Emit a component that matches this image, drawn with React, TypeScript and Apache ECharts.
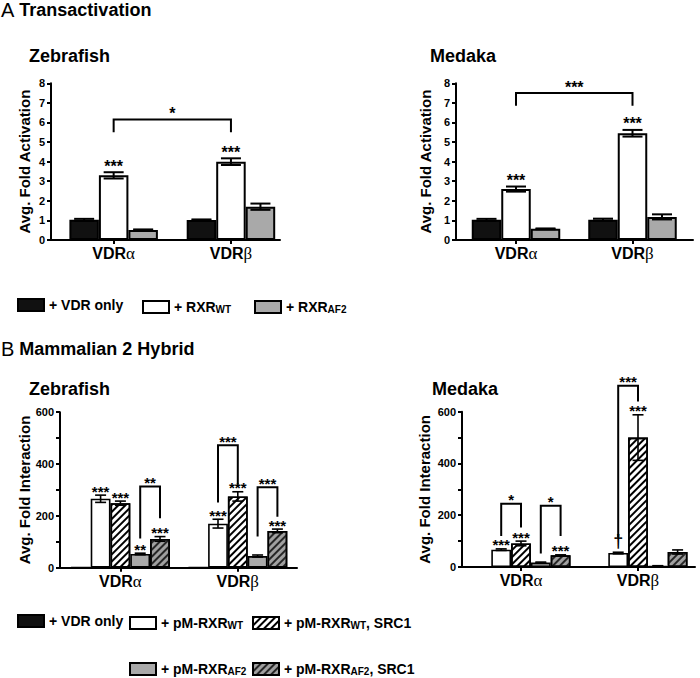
import React, { useEffect, useRef } from 'react';
import * as echarts from 'echarts';

// ---------- data ----------
const categories = ['VDRα', 'VDRβ'];

// A: Transactivation – Zebrafish (avg. fold activation)
const aZebVdr = [1.03, 1.02];
const aZebVdrErr = [0.05, 0.03];
const aZebWt = [3.3, 4.0];
const aZebWtErr = [0.16, 0.17];
const aZebAf2 = [0.51, 1.7];
const aZebAf2Err = [0.03, 0.16];
const aZebWtStars = ['***', '***'];
// bracket: [cat1, bar1, cat2, bar2, top, leftLegEnd, rightLegEnd, label]
const aZebBrackets = [[0, 1, 1, 1, 6.15, 5.5, 5.5, '*']];

// A: Transactivation – Medaka
const aMedVdr = [1.03, 1.04];
const aMedVdrErr = [0.05, 0.05];
const aMedWt = [2.6, 5.45];
const aMedWtErr = [0.13, 0.17];
const aMedAf2 = [0.57, 1.18];
const aMedAf2Err = [0.02, 0.13];
const aMedWtStars = ['***', '***'];
const aMedBrackets = [[0, 1, 1, 1, 7.5, 6.85, 6.85, '***']];

// B: Mammalian 2 Hybrid – Zebrafish (avg. fold interaction)
const bZebVdr = [1, 1];
const bZebWt = [266, 170];
const bZebWtErr = [14, 17];
const bZebWtSrc = [249, 275];
const bZebWtSrcErr = [8, 18];
const bZebAf2 = [53, 45];
const bZebAf2Err = [3, 4];
const bZebAf2Src = [111, 142];
const bZebAf2SrcErr = [9, 7];
const bZebWtStars = ['***', '***'];
const bZebWtSrcStars = ['***', '***'];
const bZebAf2Stars = ['**', ''];
const bZebAf2SrcStars = ['***', '***'];
const bZebBrackets = [
  [0, 3, 0, 4, 313, 113, 191, '**'],
  [1, 1, 1, 2, 472, 252, 320, '***'],
  [1, 3, 1, 4, 310, 120, 197, '***'],
];

// B: Mammalian 2 Hybrid – Medaka
const bMedVdr = [1, 1];
const bMedWt = [67, 54];
const bMedWtErr = [3, 3];
const bMedWtSrc = [91, 500];
const bMedWtSrcErr = [9, 88];
const bMedAf2 = [17, 4];
const bMedAf2Err = [2, 1];
const bMedAf2Src = [45, 58];
const bMedAf2SrcErr = [2, 8];
const bMedWtStars = ['***', '†'];
const bMedWtSrcStars = ['***', '***'];
const bMedAf2SrcStars = ['***', ''];
const bMedBrackets = [
  [0, 1, 0, 2, 244, 120, 153, '*'],
  [0, 3, 0, 4, 237, 52, 120, '*'],
  [1, 1, 1, 2, 700, 114, 639, '***'],
];

const none = ['', ''];
const zero = [0, 0];

// ---------- styles ----------
const FONT = '"Liberation Sans", Arial, sans-serif';
const SERIF = '"Liberation Serif", "DejaVu Serif", serif';

const hatch = (color: string) => ({
  symbol: 'rect',
  symbolSize: 1,
  dashArrayX: [1, 0],
  dashArrayY: [2, 3],
  rotation: -Math.PI / 4,
  color,
});

const STYLE: Record<string, any> = {
  vdr: { color: '#111111', borderColor: '#000000' },
  wt: { color: '#ffffff', borderColor: '#000000' },
  af2: { color: '#a9a9a9', borderColor: '#000000' },
  wtSrc: { color: '#ffffff', borderColor: '#000000', decal: hatch('#000000') },
  af2Src: { color: '#a0a0a0', borderColor: '#000000', decal: hatch('#262626') },
};

const panels = [
  {
    barLeft: 55, barW: 234.6, axisLeft: 51, axisW: 229, top: 83.3, height: 156.7,
    yMax: 8, yInterval: 1, minor: false, yName: 'Avg. Fold Activation', nameGap: 19,
    bw: 29.5, cap: 20, lw: 2, starGap: 6, starSize: 16,
    bars: [
      { name: 'VDR only', style: 'vdr', data: aZebVdr, err: aZebVdrErr, stars: none },
      { name: 'RXR_WT', style: 'wt', data: aZebWt, err: aZebWtErr, stars: aZebWtStars },
      { name: 'RXR_AF2', style: 'af2', data: aZebAf2, err: aZebAf2Err, stars: none },
    ],
    brackets: aZebBrackets,
  },
  {
    barLeft: 457.75, barW: 233, axisLeft: 456, axisW: 237, top: 83.3, height: 156.7,
    yMax: 8, yInterval: 1, minor: false, yName: 'Avg. Fold Activation', nameGap: 23,
    bw: 29.5, cap: 20, lw: 2, starGap: 6, starSize: 16,
    bars: [
      { name: 'VDR only', style: 'vdr', data: aMedVdr, err: aMedVdrErr, stars: none },
      { name: 'RXR_WT', style: 'wt', data: aMedWt, err: aMedWtErr, stars: aMedWtStars },
      { name: 'RXR_AF2', style: 'af2', data: aMedAf2, err: aMedAf2Err, stars: none },
    ],
    brackets: aMedBrackets,
  },
  {
    barLeft: 61.7, barW: 234.8, axisLeft: 60, axisW: 237, top: 412.2, height: 155.5,
    yMax: 600, yInterval: 200, minor: true, yName: 'Avg. Fold Interaction', nameGap: 28,
    bw: 19.8, cap: 11, lw: 1.6, starGap: 4, starSize: 15,
    bars: [
      { name: 'VDR only', style: 'vdr', data: bZebVdr, err: zero, stars: none },
      { name: 'pM-RXR_WT', style: 'wt', data: bZebWt, err: bZebWtErr, stars: bZebWtStars },
      { name: 'pM-RXR_WT, SRC1', style: 'wtSrc', data: bZebWtSrc, err: bZebWtSrcErr, stars: bZebWtSrcStars },
      { name: 'pM-RXR_AF2', style: 'af2', data: bZebAf2, err: bZebAf2Err, stars: bZebAf2Stars },
      { name: 'pM-RXR_AF2, SRC1', style: 'af2Src', data: bZebAf2Src, err: bZebAf2SrcErr, stars: bZebAf2SrcStars },
    ],
    brackets: bZebBrackets,
  },
  {
    barLeft: 462.5, barW: 234, axisLeft: 462, axisW: 233, top: 411.7, height: 155.3,
    yMax: 600, yInterval: 200, minor: true, yName: 'Avg. Fold Interaction', nameGap: 30,
    bw: 19.8, cap: 11, lw: 1.6, starGap: 4, starSize: 15,
    bars: [
      { name: 'VDR only', style: 'vdr', data: bMedVdr, err: zero, stars: none },
      { name: 'pM-RXR_WT', style: 'wt', data: bMedWt, err: bMedWtErr, stars: bMedWtStars },
      { name: 'pM-RXR_WT, SRC1', style: 'wtSrc', data: bMedWtSrc, err: bMedWtSrcErr, stars: bMedWtSrcStars },
      { name: 'pM-RXR_AF2', style: 'af2', data: bMedAf2, err: bMedAf2Err, stars: none },
      { name: 'pM-RXR_AF2, SRC1', style: 'af2Src', data: bMedAf2Src, err: bMedAf2SrcErr, stars: bMedAf2SrcStars },
    ],
    brackets: bMedBrackets,
  },
];

const legendFormatter = (name: string) => {
  const i = name.indexOf('_');
  if (i < 0) return '{t|+ ' + name + '}';
  const pre = name.slice(0, i);
  const rest = name.slice(i + 1);
  const m = rest.match(/^(WT|AF2)(.*)$/);
  if (!m) return '{t|+ ' + name + '}';
  return '{t|+ ' + pre + '}{s|' + m[1] + '}' + (m[2] ? '{t|' + m[2] + '}' : '');
};

const legendRich = {
  t: { fontFamily: FONT, fontWeight: 'bold', fontSize: 14, lineHeight: 14, verticalAlign: 'top', color: '#000' },
  s: { fontFamily: FONT, fontWeight: 'bold', fontSize: 10, lineHeight: 10, verticalAlign: 'bottom', padding: [6, 0, 0, 0], color: '#000' },
};

const legendItems = [
  { name: 'VDR only', left: 17, top: 298 },
  { name: 'RXR_WT', left: 142, top: 298 },
  { name: 'RXR_AF2', left: 254, top: 298 },
  { name: 'VDR only', left: 17, top: 614 },
  { name: 'pM-RXR_WT', left: 129, top: 614 },
  { name: 'pM-RXR_WT, SRC1', left: 252, top: 614 },
  { name: 'pM-RXR_AF2', left: 129, top: 660 },
  { name: 'pM-RXR_AF2, SRC1', left: 252, top: 660 },
];

function buildOption() {
  const grid: any[] = [];
  const xAxis: any[] = [];
  const yAxis: any[] = [];
  const series: any[] = [];

  panels.forEach((p, pi) => {
    const g0 = 2 * pi;
    const g1 = 2 * pi + 1;
    const n = p.bars.length;
    grid.push({ left: p.barLeft, top: p.top, width: p.barW, height: p.height });
    grid.push({ left: p.axisLeft, top: p.top, width: p.axisW, height: p.height });

    xAxis.push({
      type: 'category', gridIndex: g0, data: categories,
      axisLine: { show: false },
      axisTick: { show: true, alignWithLabel: true, length: 4, lineStyle: { color: '#000', width: 2 } },
      splitLine: { show: false },
      axisLabel: {
        margin: 5, color: '#000',
        formatter: (v: string) => '{v|' + v.slice(0, -1) + '}{g|' + v.slice(-1) + '}',
        rich: {
          v: { fontFamily: FONT, fontWeight: 'bold', fontSize: 16, color: '#000' },
          g: { fontFamily: SERIF, fontWeight: 'normal', fontSize: 17, color: '#000' },
        },
      },
    });
    xAxis.push({
      type: 'value', gridIndex: g1, min: 0, max: 1,
      axisLine: { show: true, onZero: false, lineStyle: { color: '#000', width: 2 } },
      axisTick: { show: false }, axisLabel: { show: false }, splitLine: { show: false },
    });
    yAxis.push({ type: 'value', gridIndex: g0, min: 0, max: p.yMax, show: false, splitLine: { show: false } });
    yAxis.push({
      type: 'value', gridIndex: g1, min: 0, max: p.yMax, interval: p.yInterval,
      axisLine: { show: true, onZero: false, lineStyle: { color: '#000', width: 2 } },
      axisTick: { show: true, length: 4, lineStyle: { color: '#000', width: 2 } },
      minorTick: p.minor
        ? { show: true, splitNumber: 2, length: 4, lineStyle: { color: '#000', width: 2 } }
        : { show: false },
      splitLine: { show: false },
      axisLabel: { margin: 6, color: '#000', fontFamily: FONT, fontWeight: 'bold', fontSize: 11 },
      name: p.yName, nameLocation: 'middle', nameGap: p.nameGap, nameRotate: 90,
      nameTextStyle: { fontFamily: FONT, fontWeight: 'bold', fontSize: 15, color: '#000' },
    });

    p.bars.forEach((b) => {
      series.push({
        type: 'bar', name: b.name, xAxisIndex: g0, yAxisIndex: g0,
        data: b.data, barWidth: p.bw, barGap: '0%', silent: true,
        itemStyle: { ...STYLE[b.style], borderWidth: p.lw },
      });
    });

    // error bars + significance marks above bars
    const items: any[] = [];
    p.bars.forEach((b, k) => b.data.forEach((v, ci) => items.push([ci, v, b.err[ci], k, b.stars[ci]])));
    series.push({
      type: 'custom', xAxisIndex: g0, yAxisIndex: g0, z: 5, silent: true, clip: false,
      encode: { x: 0, y: 1 },
      data: items.map((it) => [it[0], it[1]]),
      renderItem: (params: any, api: any) => {
        const [ci, v, e, k, label] = items[params.dataIndex];
        const cx = api.coord([ci, v])[0] + (k - (n - 1) / 2) * p.bw;
        const yt = api.coord([ci, v + e])[1];
        const yb = api.coord([ci, Math.max(0, v - e)])[1];
        const hw = p.cap / 2;
        const ls = { stroke: '#000', lineWidth: p.lw };
        const children: any[] = [];
        if (e > 0) {
          children.push({ type: 'line', shape: { x1: cx, y1: yt, x2: cx, y2: yb }, style: ls });
          children.push({ type: 'line', shape: { x1: cx - hw, y1: yt, x2: cx + hw, y2: yt }, style: ls });
          children.push({ type: 'line', shape: { x1: cx - hw, y1: yb, x2: cx + hw, y2: yb }, style: ls });
        }
        if (label) {
          const dagger = label === '†';
          children.push({
            type: 'text',
            style: {
              text: label, x: cx, y: yt - p.starGap - (dagger ? 7 : 0), align: 'center', verticalAlign: 'middle',
              fontFamily: FONT, fontSize: dagger ? 18 : p.starSize, fontWeight: 'bold', fill: '#000',
            },
          });
        }
        return { type: 'group', children };
      },
    });

    // brackets
    series.push({
      type: 'custom', xAxisIndex: g0, yAxisIndex: g0, z: 6, silent: true, clip: false,
      encode: { x: 0, y: 1 },
      data: p.brackets.map((b: any[]) => [b[0], b[4]]),
      renderItem: (params: any, api: any) => {
        const [c1, k1, c2, k2, top, lb, rb, label] = p.brackets[params.dataIndex] as any[];
        const x1 = api.coord([c1, top])[0] + (k1 - (n - 1) / 2) * p.bw;
        const x2 = api.coord([c2, top])[0] + (k2 - (n - 1) / 2) * p.bw;
        const yTop = api.coord([c1, top])[1];
        const yl = api.coord([c1, lb])[1];
        const yr = api.coord([c2, rb])[1];
        return {
          type: 'group',
          children: [
            {
              type: 'polyline',
              shape: { points: [[x1, yl], [x1, yTop], [x2, yTop], [x2, yr]] },
              style: { stroke: '#000', lineWidth: 2, fill: null },
            },
            {
              type: 'text',
              style: {
                text: label, x: (x1 + x2) / 2, y: yTop - p.starGap, align: 'center', verticalAlign: 'middle',
                fontFamily: FONT, fontSize: p.starSize, fontWeight: 'bold', fill: '#000',
              },
            },
          ],
        };
      },
    });
  });

  const legend = legendItems.map((l) => ({
    data: [l.name], left: l.left, top: l.top, padding: 0, itemGap: 0,
    icon: 'rect', itemWidth: 26, itemHeight: 12, selectedMode: false,
    formatter: legendFormatter,
    textStyle: { fontFamily: FONT, fontWeight: 'bold', fontSize: 14, color: '#000', rich: legendRich },
  }));

  const titleRich = {
    a: { fontFamily: FONT, fontWeight: 'normal', fontSize: 20, color: '#000' },
    b: { fontFamily: FONT, fontWeight: 'bold', fontSize: 18, color: '#000' },
  };
  const sub = { fontFamily: FONT, fontWeight: 'bold', fontSize: 18, color: '#000' };
  const title = [
    { text: '{a|A} {b|Transactivation}', left: 1, top: 0, padding: 0, textStyle: { rich: titleRich } },
    { text: 'Zebrafish', left: 29, top: 47, padding: 0, textStyle: sub },
    { text: 'Medaka', left: 430, top: 47, padding: 0, textStyle: sub },
    { text: '{a|B} {b|Mammalian 2 Hybrid}', left: 1, top: 339, padding: 0, textStyle: { rich: titleRich } },
    { text: 'Zebrafish', left: 29, top: 380, padding: 0, textStyle: sub },
    { text: 'Medaka', left: 432, top: 380, padding: 0, textStyle: sub },
  ];

  return {
    animation: false,
    backgroundColor: '#ffffff',
    textStyle: { fontFamily: FONT },
    title, legend, grid, xAxis, yAxis, series,
  };
}

export default function App() {
  const ref = useRef<HTMLDivElement>(null);
  useEffect(() => {
    document.body.style.margin = '0';
    const chart = echarts.init(ref.current!, null, { renderer: 'svg' });
    chart.setOption(buildOption() as any);
    return () => chart.dispose();
  }, []);
  return <div ref={ref} style={{ width: 700, height: 678 }} />;
}
